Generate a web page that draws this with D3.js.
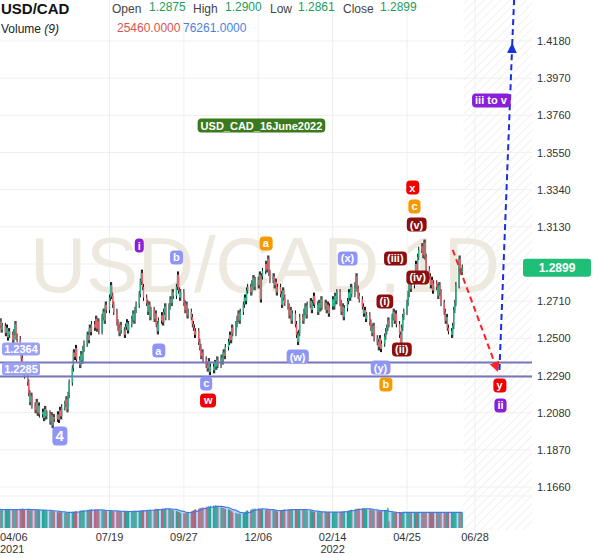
<!DOCTYPE html>
<html><head><meta charset="utf-8">
<script src="https://cdn.jsdelivr.net/npm/d3@7"></script>
<style>body{margin:0;background:#fff;font-family:Arial,"Liberation Sans",sans-serif}</style>
</head><body><div id="chart"></div>
<script>
// daily closes, one line per week (Mon..Fri), first week starts 2021-04-05
var closes = [
 [1.2610,1.2575,1.2595,1.2550,1.2570],[1.2530,1.2560,1.2505,1.2540,1.2520],[1.2490,1.2535,1.2580,1.2510,1.2495],
 [1.2440,1.2390,1.2310,1.2345,1.2290],[1.2250,1.2190,1.2140,1.2175,1.2120],[1.2095,1.2140,1.2080,1.2120,1.2070],
 [1.2085,1.2050,1.2100,1.2060,1.2075],[1.2030,1.2065,1.2010,1.2055,1.2045],[1.2070,1.2040,1.2095,1.2060,1.2110],
 [1.2130,1.2155,1.2100,1.2180,1.2250],[1.2330,1.2420,1.2395,1.2445,1.2380],[1.2350,1.2410,1.2375,1.2440,1.2470],
 [1.2520,1.2490,1.2560,1.2535,1.2580],[1.2560,1.2610,1.2555,1.2595,1.2540],[1.2620,1.2650,1.2600,1.2690,1.2660],
 [1.2730,1.2800,1.2740,1.2690,1.2650],[1.2590,1.2560,1.2530,1.2575,1.2545],[1.2520,1.2565,1.2590,1.2545,1.2580],
 [1.2610,1.2640,1.2600,1.2660,1.2690],[1.2750,1.2820,1.2870,1.2790,1.2730],[1.2700,1.2650,1.2690,1.2620,1.2660],
 [1.2610,1.2640,1.2580,1.2540,1.2600],[1.2630,1.2590,1.2650,1.2680,1.2620],[1.2680,1.2720,1.2700,1.2760,1.2740],
 [1.2790,1.2860,1.2770,1.2730,1.2760],[1.2700,1.2660,1.2690,1.2630,1.2650],[1.2620,1.2580,1.2560,1.2520,1.2540],
 [1.2480,1.2450,1.2400,1.2420,1.2380],[1.2350,1.2330,1.2370,1.2310,1.2340],[1.2320,1.2360,1.2340,1.2380,1.2350],
 [1.2390,1.2370,1.2420,1.2400,1.2450],[1.2480,1.2520,1.2490,1.2560,1.2530],[1.2580,1.2610,1.2640,1.2600,1.2650],
 [1.2690,1.2730,1.2710,1.2770,1.2790],[1.2760,1.2810,1.2840,1.2790,1.2830],[1.2800,1.2860,1.2720,1.2850,1.2880],
 [1.2920,1.2890,1.2950,1.2870,1.2830],[1.2850,1.2800,1.2820,1.2760,1.2790],[1.2750,1.2690,1.2770,1.2730,1.2700],
 [1.2680,1.2630,1.2660,1.2600,1.2640],[1.2580,1.2520,1.2480,1.2530,1.2620],[1.2600,1.2650,1.2680,1.2630,1.2690],
 [1.2710,1.2660,1.2700,1.2740,1.2690],[1.2650,1.2700,1.2670,1.2720,1.2680],[1.2700,1.2660,1.2690,1.2640,1.2680],
 [1.2720,1.2680,1.2740,1.2710,1.2760],[1.2700,1.2650,1.2680,1.2620,1.2670],[1.2710,1.2760,1.2730,1.2790,1.2750],
 [1.2800,1.2850,1.2780,1.2740,1.2720],[1.2680,1.2640,1.2660,1.2610,1.2630],[1.2590,1.2560,1.2530,1.2570,1.2500],
 [1.2480,1.2450,1.2500,1.2440,1.2470],[1.2510,1.2540,1.2560,1.2600,1.2580],[1.2620,1.2650,1.2600,1.2640,1.2580],
 [1.2520,1.2470,1.2560,1.2620,1.2650],[1.2700,1.2750,1.2810,1.2780,1.2800],[1.2850,1.2920,1.2880,1.2960,1.3000],
 [1.3020,1.2970,1.3040,1.2960,1.2890],[1.2850,1.2800,1.2830,1.2770,1.2810],[1.2790,1.2740,1.2800,1.2760,1.2700],
 [1.2650,1.2600,1.2620,1.2560,1.2540],[1.2520,1.2570,1.2660,1.2700,1.2800],[1.2950,1.2880,1.2875,1.2899]
];
// daily volume in thousands, same layout
var volumes = [
 [72,70,74,68,71],[70,73,69,72,70],[71,68,72,70,69],[74,72,75,71,70],[69,72,70,68,71],[70,67,71,69,68],
 [68,70,66,69,67],[66,64,67,63,65],[62,60,63,59,61],[58,61,57,60,59],[60,63,62,65,64],[66,68,65,69,67],
 [70,68,71,69,72],[69,71,68,70,67],[68,66,69,67,65],[66,64,67,65,63],[64,66,62,65,63],[63,65,61,64,62],
 [64,66,63,67,65],[66,68,65,69,67],[68,70,67,71,69],[70,72,74,73,71],[72,74,75,73,76],[74,72,71,70,68],
 [66,64,62,60,58],[57,56,58,60,62],[64,66,68,70,72],[74,76,78,77,80],[82,79,84,80,85],[86,83,88,84,82],
 [80,78,77,75,74],[72,70,68,64,60],[58,55,54,56,55],[57,60,63,66,68],[70,72,74,73,75],[76,74,73,72,71],
 [70,71,69,68,70],[69,67,66,65,64],[66,68,70,71,72],[73,72,71,70,69],[70,72,71,73,72],[71,70,69,68,67],
 [66,65,64,63,62],[62,61,60,61,62],[62,61,60,62,61],[60,61,62,61,60],[61,62,63,64,65],[66,67,68,69,71],
 [72,74,73,75,74],[76,75,74,73,72],[71,70,69,68,67],[66,67,65,64,66],[67,68,70,78,25.46]
];
var priceTicks = [1.1660,1.1870,1.2080,1.2290,1.2500,1.2710,1.2920,1.3130,1.3340,1.3550,1.3760,1.3970,1.4180];
var dateTicks = [["2021-04-06","04/06","2021"],["2021-07-19","07/19",""],["2021-09-27","09/27",""],["2021-12-06","12/06",""],
                 ["2022-02-14","02/14","2022"],["2022-04-25","04/25",""],["2022-06-28","06/28",""]];
var levels = [1.2364, 1.2285];
// wave labels: date, price, text, colour
var waves = [
 ["2021-06-02",1.1943,"4","#8f95f5"],["2021-08-16",1.3027,"i","#8a1fd9"],["2021-09-20",1.2960,"b","#8f95f5"],
 ["2021-09-03",1.2434,"a","#8f95f5"],["2021-10-18",1.2248,"c","#8f95f5"],["2021-10-20",1.2152,"w","#f00000"],
 ["2021-12-13",1.3039,"a","#f59a00"],["2022-01-12",1.2400,"(w)","#8f95f5"],["2022-02-28",1.2954,"(x)","#8f95f5"],
 ["2022-03-31",1.2338,"(y)","#8f95f5"],["2022-04-05",1.2242,"b","#f59a00"],["2022-04-04",1.2711,"(i)","#8b0f0f"],
 ["2022-04-20",1.2440,"(ii)","#8b0f0f"],["2022-04-14",1.2954,"(iii)","#8b0f0f"],["2022-05-05",1.2847,"(iv)","#8b0f0f"],
 ["2022-05-04",1.3146,"(v)","#8b0f0f"],["2022-05-02",1.3248,"c","#f59a00"],["2022-04-30",1.3355,"x","#f00000"],
 ["2022-07-21",1.2237,"y","#f00000"],["2022-07-22",1.2124,"ii","#8a1fd9"],["2022-07-13",1.3847,"iii to v","#8a1fd9"],
 ["2021-12-09",1.3705,"USD_CAD_16June2022","#3b7a1c"]
];
var redArrow = [["2022-06-07",1.3000],["2022-07-19",1.2321]];
var blueArrow = [["2022-07-21",1.2321],["2022-08-02",1.4157],["2022-08-04",1.4440]];

var W = 600, H = 558, plotR = 532;
var parse = d3.timeParse("%Y-%m-%d");
var start = parse("2021-04-05");

var bars = [];
var prev = closes[0][0];
closes.forEach(function(wk, w){
  wk.forEach(function(c, i){
    var o = prev;
    bars.push({date: d3.timeDay.offset(start, w*7+i), o: o, c: c,
               h: Math.max(o,c)+0.0018, l: Math.min(o,c)-0.0018,
               v: volumes[w] ? volumes[w][i] : 60});
    prev = c;
  });
});

var x = d3.scaleTime().domain([parse("2021-04-06"), parse("2022-06-28")]).range([-1, 475]);
var y = d3.scaleLinear().domain([1.1660, 1.4180]).range([487, 41]);
var yv = d3.scaleLinear().domain([0, 100]).range([528, 502]);

var svg = d3.select("#chart").append("svg").attr("width", W).attr("height", H)
  .style("font-family", "Arial, 'Liberation Sans', sans-serif");

var defs = svg.append("defs");
var pat = defs.append("pattern").attr("id","hatch").attr("width",6).attr("height",6)
  .attr("patternUnits","userSpaceOnUse").attr("patternTransform","rotate(45)");
pat.append("line").attr("x1",0).attr("y1",0).attr("x2",0).attr("y2",6).attr("stroke","#e4e4e4").attr("stroke-width",1);
[["redHead","#f22"],["blueHead","#1a2ee0"]].forEach(function(m){
  defs.append("marker").attr("id",m[0]).attr("viewBox","0 0 10 10").attr("refX",8).attr("refY",5)
    .attr("markerWidth",5).attr("markerHeight",5).attr("orient","auto")
    .append("path").attr("d","M0,0L10,5L0,10z").attr("fill",m[1]);
});

// hatch for future area
var lastX = x(bars[bars.length-1].date) + 1;
svg.append("rect").attr("x", lastX).attr("y", 0).attr("width", plotR - lastX).attr("height", 530).attr("fill","url(#hatch)");

// grid
svg.append("g").selectAll("line").data(priceTicks).enter().append("line")
  .attr("x1",0).attr("x2",plotR).attr("y1",function(d){return y(d);}).attr("y2",function(d){return y(d);})
  .attr("stroke","#efefef");
svg.append("g").selectAll("line").data(dateTicks).enter().append("line")
  .attr("x1",function(d){return x(parse(d[0]));}).attr("x2",function(d){return x(parse(d[0]));})
  .attr("y1",0).attr("y2",530).attr("stroke","#efefef");
svg.append("line").attr("x1",0).attr("x2",plotR).attr("y1",496).attr("y2",496).attr("stroke","#efefef");

// watermark
svg.append("text").attr("x",30).attr("y",292).attr("font-size",78).attr("fill","#ede9df")
  .attr("textLength",470).text("USD/CAD,1D");

// volume MA(9) area behind bars
var ma = bars.map(function(d,i){ var s = bars.slice(Math.max(0,i-8), i+1); return {date:d.date, v:d3.mean(s,function(b){return b.v;})}; });
svg.append("path").datum(ma).attr("fill","rgba(140,175,240,0.55)")
  .attr("d", d3.area().x(function(d){return x(d.date);}).y0(528).y1(function(d){return yv(d.v);}));
svg.append("g").selectAll("rect").data(bars).enter().append("rect")
  .attr("x",function(d){return x(d.date)-0.6;}).attr("width",1.2)
  .attr("y",function(d){return yv(d.v);}).attr("height",function(d){return 528-yv(d.v);})
  .attr("fill",function(d){return d.c>=d.o ? "#21a896" : "#b4677f";});
svg.append("path").datum(ma).attr("fill","none").attr("stroke","#3f7be0").attr("stroke-width",1.2)
  .attr("d", d3.line().x(function(d){return x(d.date);}).y(function(d){return yv(d.v);}));

// candles
var cg = svg.append("g");
cg.selectAll("line").data(bars).enter().append("line")
  .attr("x1",function(d){return x(d.date);}).attr("x2",function(d){return x(d.date);})
  .attr("y1",function(d){return y(d.h);}).attr("y2",function(d){return y(d.l);})
  .attr("stroke","#111").attr("stroke-width",1);
cg.selectAll("rect").data(bars).enter().append("rect")
  .attr("x",function(d){return x(d.date)-0.7;}).attr("width",1.4)
  .attr("y",function(d){return y(Math.max(d.o,d.c));})
  .attr("height",function(d){return Math.max(1, Math.abs(y(d.o)-y(d.c)));})
  .attr("fill",function(d){return d.c>=d.o ? "#22b58a" : "#f2616b";});

// support lines
svg.append("g").selectAll("line").data(levels).enter().append("line")
  .attr("x1",0).attr("x2",plotR).attr("y1",function(d){return y(d);}).attr("y2",function(d){return y(d);})
  .attr("stroke","#7676bb").attr("stroke-width",2);
levels.forEach(function(l,i){
  svg.append("rect").attr("x",2).attr("y",y(l)-20+i*6).attr("width",38).attr("height",13).attr("rx",3).attr("fill","#9ca2f2");
  svg.append("text").attr("x",21).attr("y",y(l)-9.5+i*6).attr("text-anchor","middle").attr("font-size",11)
    .attr("font-weight","bold").attr("fill","#fff").text(l.toFixed(4));
});

// arrows
var lp = d3.line().x(function(d){return x(parse(d[0]));}).y(function(d){return y(d[1]);});
svg.append("path").attr("d",lp(redArrow)).attr("stroke","#f22").attr("stroke-width",2).attr("stroke-dasharray","6,4")
  .attr("fill","none").attr("marker-end","url(#redHead)");
svg.append("path").attr("d",lp(blueArrow.slice(0,2))).attr("stroke","#1a2ee0").attr("stroke-width",2).attr("stroke-dasharray","6,4")
  .attr("fill","none").attr("marker-end","url(#blueHead)");
svg.append("path").attr("d",lp(blueArrow.slice(1))).attr("stroke","#1a2ee0").attr("stroke-width",2).attr("stroke-dasharray","6,4").attr("fill","none");

// wave labels
var wg = svg.append("g").selectAll("g").data(waves).enter().append("g")
  .attr("transform",function(d){return "translate("+x(parse(d[0]))+","+y(d[1])+")";});
wg.append("text").attr("text-anchor","middle").attr("y",4.5).attr("font-size",function(d){return d[2]==="4"?15:11;})
  .attr("font-weight","bold").attr("fill","#fff").text(function(d){return d[2];})
  .each(function(d){
    var bb = this.getBBox();
    d3.select(this.parentNode).insert("rect","text").attr("x",bb.x-3).attr("y",bb.y-1)
      .attr("width",bb.width+6).attr("height",bb.height+2).attr("rx",4).attr("fill",d[3]);
  });

// right price axis
svg.append("g").selectAll("text").data(priceTicks).enter().append("text")
  .attr("x",537).attr("y",function(d){return y(d)+4;}).attr("font-size",11).attr("fill","#333")
  .text(function(d){return d.toFixed(4);});
var last = bars[bars.length-1];
svg.append("rect").attr("x",523).attr("y",y(last.c)-9).attr("width",68).attr("height",18).attr("rx",3).attr("fill","#1fbf78");
svg.append("text").attr("x",557).attr("y",y(last.c)+4.5).attr("text-anchor","middle").attr("font-size",12)
  .attr("font-weight","bold").attr("fill","#fff").text(last.c.toFixed(4));

// date axis
var dt = svg.append("g").selectAll("g").data(dateTicks).enter().append("g");
dt.append("text").attr("x",function(d,i){return i===0?0:x(parse(d[0]));}).attr("y",541)
  .attr("text-anchor",function(d,i){return i===0?"start":"middle";}).attr("font-size",11).attr("fill","#333").text(function(d){return d[1];});
dt.append("text").attr("x",function(d,i){return i===0?0:x(parse(d[0]));}).attr("y",553)
  .attr("text-anchor",function(d,i){return i===0?"start":"middle";}).attr("font-size",11).attr("fill","#333").text(function(d){return d[2];});

// header
var hdr = svg.append("g").attr("font-size",12);
hdr.append("text").attr("x",1).attr("y",14).attr("font-size",15).attr("font-weight","bold").attr("fill","#111").text("USD/CAD");
[["Open",112,"1.2875",149],["High",193,"1.2900",225],["Low",270,"1.2861",298],["Close",343,"1.2899",380]].forEach(function(h){
  hdr.append("text").attr("x",h[1]).attr("y",13).attr("fill","#444").text(h[0]);
  hdr.append("text").attr("x",h[3]).attr("y",11).attr("fill","#1b9e5a").text(h[2]);
});
hdr.append("text").attr("x",1).attr("y",33).attr("fill","#222").text("Volume ").append("tspan").attr("font-style","italic").text("(9)");
hdr.append("text").attr("x",117).attr("y",32).attr("fill","#d9534f").text("25460.0000");
hdr.append("text").attr("x",183).attr("y",32).attr("fill","#4a7fe0").text("76261.0000");
</script></body></html>
